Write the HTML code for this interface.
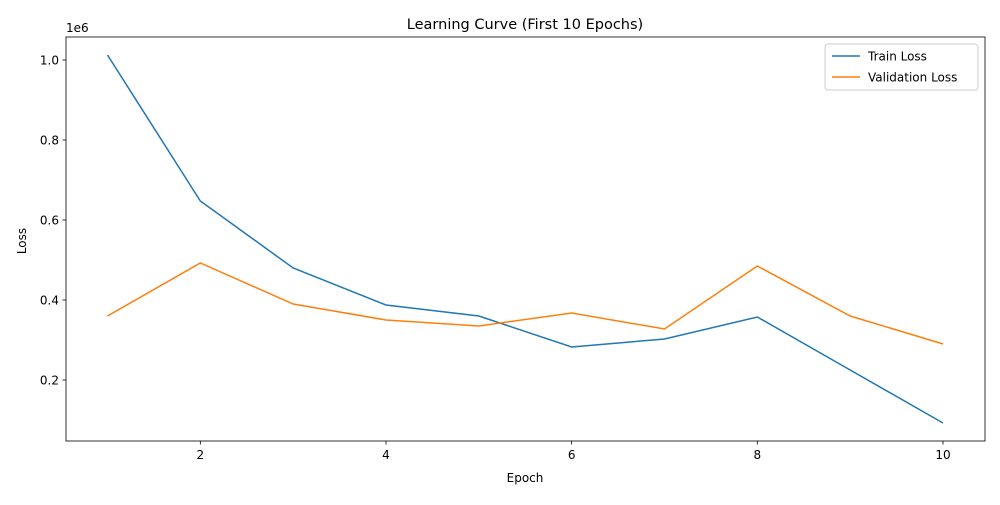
<!DOCTYPE html>
<html><head><meta charset="utf-8"><style>
body{margin:0;background:#fff;font-family:"Liberation Sans","DejaVu Sans",sans-serif}
svg text{font-family:"DejaVu Sans","Liberation Sans",sans-serif}
</style></head><body>
<svg id="chart" width="1000" height="500" xmlns="http://www.w3.org/2000/svg"></svg>
<script>
const epochs=[1,2,3,4,5,6,7,8,9,10];
const trainLoss=[1.0125,0.6475,0.48,0.3875,0.36,0.2825,0.3025,0.3575,0.225,0.0925];
const valLoss=[0.36,0.4925,0.39,0.35,0.335,0.3675,0.3275,0.485,0.36,0.29];
const xTicks=[2,4,6,8,10];
const yTicks=[0.2,0.4,0.6,0.8,1.0];
const L=66,R=985,T=37,B=441;
const sx=e=>107.5+(e-1)*(943-107.5)/9;
const sy=v=>60+(1.0-v)*400;
const svg=document.getElementById('chart');
const NS='http://www.w3.org/2000/svg';
function mk(tag,attrs,txt){const el=document.createElementNS(NS,tag);for(const k in attrs)el.setAttribute(k,attrs[k]);if(txt!==undefined)el.textContent=txt;svg.appendChild(el);return el;}
let el;
el=mk('rect',{x:L,y:T,width:R-L,height:B-T,fill:'none',stroke:'#000','stroke-width':0.8});


xTicks.forEach(t=>{
 el=mk('line',{x1:sx(t),x2:sx(t),y1:B,y2:B+3.5,stroke:'#000','stroke-width':0.8});
 
 
 el=mk('text',{x:sx(t),y:B+18,'text-anchor':'middle','font-size':12},String(t));
 
 
});
yTicks.forEach(t=>{
 el=mk('line',{x1:L-3.5,x2:L,y1:sy(t),y2:sy(t),stroke:'#000','stroke-width':0.8});
 
 
 el=mk('text',{x:L-7,y:sy(t)+4.5,'text-anchor':'end','font-size':12},t.toFixed(1));
 
 
});
el=mk('text',{x:66,y:32,'font-size':12},'1e6');


el=mk('text',{x:525,y:29,'text-anchor':'middle','font-size':14.5},'Learning Curve (First 10 Epochs)');


el=mk('text',{x:525,y:482,'text-anchor':'middle','font-size':12},'Epoch');


el=mk('text',{x:26,y:241,'text-anchor':'middle','font-size':12,transform:'rotate(-90 26 241)'},'Loss');


function line(vals,color,name){
 const p=vals.map((v,i)=>sx(epochs[i])+','+sy(v)).join(' ');
 const e=mk('polyline',{points:p,fill:'none',stroke:color,'stroke-width':1.5});
 
 
}
line(trainLoss,'#1f77b4','train-loss-line');
line(valLoss,'#ff7f0e','validation-loss-line');
el=mk('rect',{x:825,y:44,width:153,height:46,fill:'#fff',stroke:'#ccc',rx:3});


el=mk('line',{x1:832,x2:860,y1:56,y2:56,stroke:'#1f77b4','stroke-width':1.5});


el=mk('text',{x:868,y:60.5,'font-size':12},'Train Loss');


el=mk('line',{x1:832,x2:860,y1:77,y2:77,stroke:'#ff7f0e','stroke-width':1.5});


el=mk('text',{x:868,y:81.5,'font-size':12},'Validation Loss');


</script>
</body></html>
